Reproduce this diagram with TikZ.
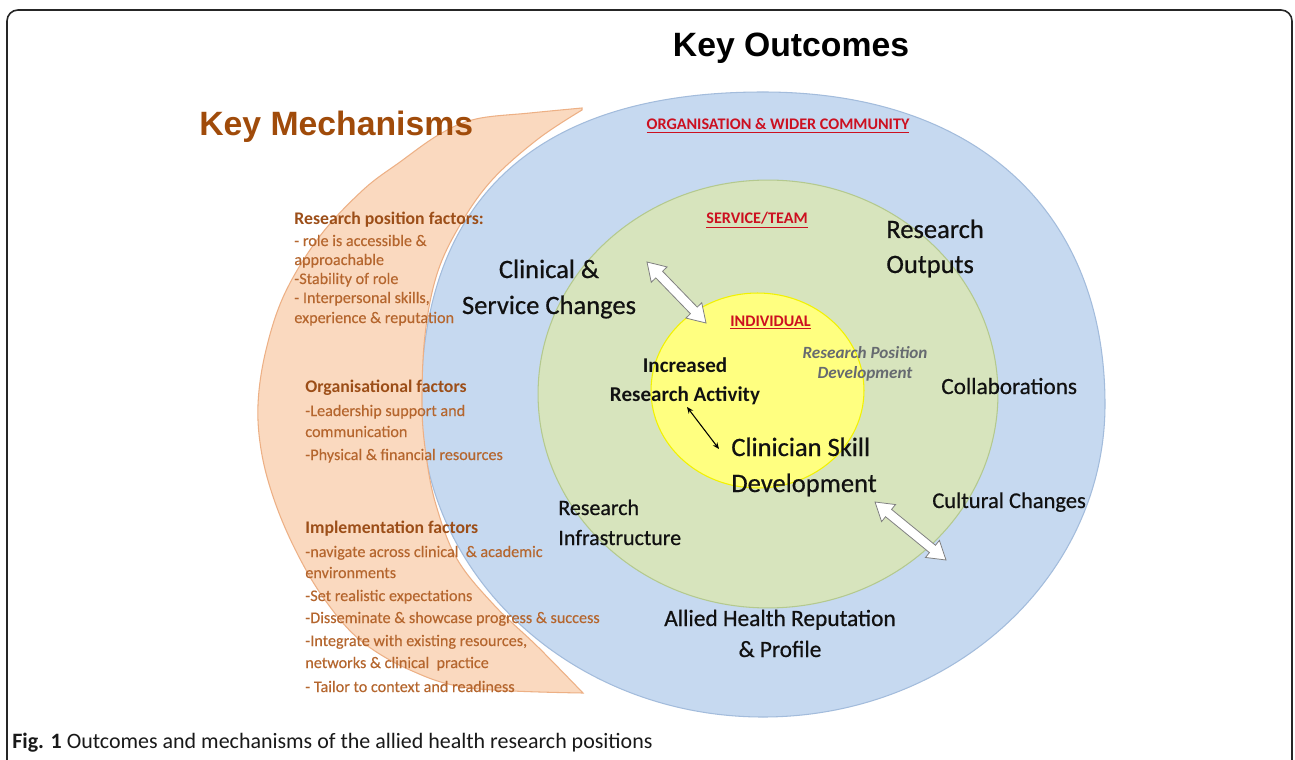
\documentclass[tikz,border=0pt]{standalone}
\usepackage{fontspec}
\setmainfont{Carlito}
\newfontfamily\arialf{Liberation Sans}
\newfontfamily\lblfont{Carlito}[FakeBold=0.6]
\newfontfamily\mechfont{Carlito}[FakeBold=0.25]
\usetikzlibrary{calc,arrows.meta}
\definecolor{bluefill}{HTML}{C6D9F0}
\definecolor{blueline}{HTML}{A3BCDC}
\definecolor{greenfill}{HTML}{D7E4BD}
\definecolor{greenline}{HTML}{B4C98E}
\definecolor{yelfill}{HTML}{FFFF80}
\definecolor{yelline}{HTML}{F2F200}
\definecolor{peachfill}{HTML}{FAD9BF}
\definecolor{peachline}{HTML}{EDB085}
\definecolor{mechtitle}{HTML}{A04B0A}
\definecolor{mechhead}{HTML}{9C4E18}
\definecolor{mechtext}{HTML}{B5662E}
\definecolor{redlabel}{HTML}{CC1020}
\definecolor{greytext}{HTML}{666A70}
\definecolor{labtext}{HTML}{111111}
\newcommand\blockarrow[2]{%
  \coordinate (#1H) at ($(#1)!0.35cm!(#2)$);
  \coordinate (#2H) at ($(#2)!0.35cm!(#1)$);
  \filldraw[barrowst] (#1) -- ($(#1H)!0.22cm!90:(#2)$) -- ($(#1H)!0.095cm!90:(#2)$)
    -- ($(#2H)!0.095cm!-90:(#1)$) -- ($(#2H)!0.22cm!-90:(#1)$) -- (#2)
    -- ($(#2H)!0.22cm!90:(#1)$) -- ($(#2H)!0.095cm!90:(#1)$)
    -- ($(#1H)!0.095cm!-90:(#2)$) -- ($(#1H)!0.22cm!-90:(#2)$) -- cycle;}
\tikzset{
  barrowst/.style={fill=white, draw=black!50, line width=0.45pt, line join=miter},
  titlestyle/.style={inner sep=0, font=\arialf\bfseries\fontsize{19.2pt}{22pt}\selectfont},
  redlab/.style={inner sep=0, anchor=base, text=redlabel, font=\bfseries\fontsize{9.2pt}{11pt}\selectfont},
  biglab/.style={inner sep=0, text=labtext, font=\lblfont\fontsize{15.1pt}{18pt}\selectfont},
  midlab/.style={inner sep=0, text=labtext, font=\lblfont\fontsize{12.8pt}{15pt}\selectfont},
  iralab/.style={inner sep=0, anchor=base, text=labtext, font=\bfseries\fontsize{12pt}{14pt}\selectfont},
  rpdlab/.style={inner sep=0, anchor=base, text=greytext, font=\bfseries\itshape\fontsize{9.75pt}{12pt}\selectfont},
  mechline/.style={inner sep=0, anchor=base west, text=mechtext, font=\mechfont\fontsize{9.2pt}{11pt}\selectfont},
  mechheadline/.style={inner sep=0, anchor=base west, text=mechhead, font=\bfseries\fontsize{10.1pt}{12pt}\selectfont},
}
\begin{document}
\begin{tikzpicture}[x=0.02cm, y=-0.02cm]
\useasboundingbox (0,0) rectangle (1295,760);
\fill[white] (0,0) rectangle (1295,760);
% frame
\draw[line width=0.9pt, black!85, rounded corners=0.22cm] (7,760) -- (7,10) -- (1292,10) -- (1292,760);
% outcome shapes
\filldraw[fill=bluefill, draw=blueline, line width=0.6pt]
  (421,404.5) .. controls (421,198) and (537,92) .. (763,92)
  .. controls (975,92) and (1105,210) .. (1105,404.5)
  .. controls (1105,577) and (952,717) .. (763,717)
  .. controls (574,717) and (421,577) .. (421,404.5) -- cycle;
\filldraw[fill=greenfill, draw=greenline, line width=0.6pt] (768,394) ellipse [x radius=4.6cm, y radius=4.28cm];
\filldraw[fill=yelfill, draw=yelline, line width=0.6pt] (757.5,390.5) ellipse [x radius=2.13cm, y radius=1.95cm];
% mechanisms crescent
\filldraw[fill=peachfill, draw=peachline, line width=0.6pt]
  plot[smooth, tension=0.6] coordinates {(582,108) (530,113) (476,119) (440,134) (400,162) (363,190) (320,236) (285,293) (266,350) (258,405) (262,455) (276,505) (298,555) (325,600) (360,640) (410,670) (470,688) (583,693)}
  -- plot[smooth, tension=0.6] coordinates {(583,693) (538,647) (494,605) (457,559) (436,505) (426,455) (422,405) (425,335) (437,274) (460,225) (492,180) (538,139) (582,110)}
  -- cycle;
% titles
\node[titlestyle, anchor=base] (ko) at (791,57) {Key Outcomes};
\node[titlestyle, anchor=base west, text=mechtitle] (km) at (199,136) {Key Mechanisms};
% level labels
\node[redlab] (org) at (778,130) {\underline{ORGANISATION \& WIDER COMMUNITY}};
\node[redlab] (svc) at (757,224) {\underline{SERVICE/TEAM}};
\node[redlab] (ind) at (770.5,326) {\underline{INDIVIDUAL}};
% outcome labels
\node[biglab, anchor=base] (cl1) at (549,278) {Clinical \&};
\node[biglab, anchor=base] (cl2) at (549,314) {Service Changes};
\node[biglab, anchor=base west] (ro1) at (886,238) {Research};
\node[biglab, anchor=base west] (ro2) at (886,273) {Outputs};
\node[biglab, anchor=base west] (cs1) at (731,456) {Clinician Skill};
\node[biglab, anchor=base west] (cs2) at (731,492) {Development};
\node[iralab] (ir1) at (685,372) {Increased};
\node[iralab] (ir2) at (685,401) {Research Activity};
\node[rpdlab] (rp1) at (865,358) {Research Position};
\node[rpdlab] (rp2) at (865,378) {Development};
\node[midlab, anchor=base west, font=\lblfont\fontsize{13.2pt}{15pt}\selectfont] (col) at (941,394) {Collaborations};
\node[midlab, anchor=base west] (cul) at (932,508) {Cultural Changes};
\node[midlab, anchor=base west, font=\lblfont\fontsize{12.5pt}{15pt}\selectfont] (ri1) at (558,515) {Research};
\node[midlab, anchor=base west, font=\lblfont\fontsize{12.5pt}{15pt}\selectfont] (ri2) at (558,545) {Infrastructure};
\node[midlab, anchor=base, font=\lblfont\fontsize{13.3pt}{16pt}\selectfont] (ah1) at (780,626) {Allied Health Reputation};
\node[midlab, anchor=base, font=\lblfont\fontsize{13.3pt}{16pt}\selectfont] (ah2) at (780,657) {\& Profile};
% mechanisms text
\node[mechheadline] (m1h) at (294,225) {Research position factors:};
\node[mechline] (m1a) at (294,246) {- role is accessible \&};
\node[mechline] (m1b) at (294,265) {approachable};
\node[mechline] (m1c) at (294,284) {-Stability of role};
\node[mechline] (m1d) at (294,303) {- Interpersonal skills,};
\node[mechline] (m1e) at (294,323) {experience \& reputation};
\node[mechheadline] (m2h) at (305,392) {Organisational factors};
\node[mechline] (m2a) at (305,416) {-Leadership support and};
\node[mechline] (m2b) at (305,437) {communication};
\node[mechline] (m2c) at (305,460) {-Physical \& financial resources};
\node[mechheadline] (m3h) at (305,533) {Implementation factors};
\node[mechline] (m3a) at (305,557) {-navigate across clinical\ \ \& academic};
\node[mechline] (m3b) at (305,578) {environments};
\node[mechline] (m3c) at (305,601) {-Set realistic expectations};
\node[mechline] (m3d) at (305,623) {-Disseminate \& showcase progress \& success};
\node[mechline] (m3e) at (305,646) {-Integrate with existing resources,};
\node[mechline] (m3f) at (305,668) {networks \& clinical\ \ practice};
\node[mechline] (m3g) at (305,692) {- Tailor to context and readiness};
% arrows
\coordinate (a1s) at (647,262);
\coordinate (a1e) at (706,323);
\blockarrow{a1s}{a1e}
\coordinate (a2s) at (875,502);
\coordinate (a2e) at (946,560);
\blockarrow{a2s}{a2e}
\coordinate (a3s) at (687,407);
\coordinate (a3e) at (719,449);
\draw[black, line width=0.6pt, {Stealth[length=0.13cm, width=0.11cm]}-{Stealth[length=0.13cm, width=0.11cm]}] (a3s) -- (a3e);
% caption
\node[inner sep=0, anchor=base west, text=black!90, font=\fontsize{12.5pt}{14pt}\selectfont] (cap) at (12,748) {\textbf{Fig. 1} Outcomes and mechanisms of the allied health research positions};
\end{tikzpicture}
\end{document}
